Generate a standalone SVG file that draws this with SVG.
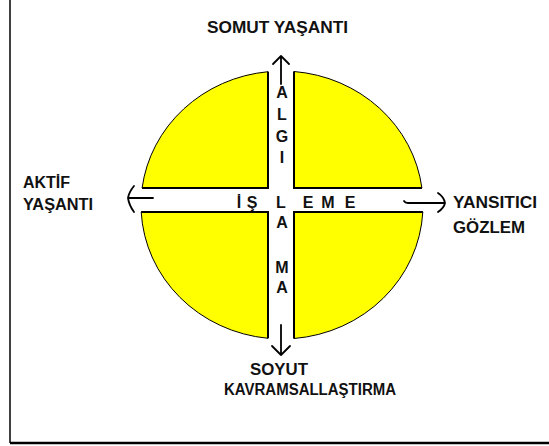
<svg xmlns="http://www.w3.org/2000/svg" width="549" height="446" viewBox="0 0 549 446">
<style>
.q{fill:#FFFF00;stroke:#000;stroke-width:1}
.e{fill:none;stroke:#000;stroke-width:2}
.a{fill:none;stroke:#000;stroke-width:1.8;stroke-linecap:round;stroke-linejoin:round}
.t{font-family:"Liberation Sans",Arial,sans-serif;font-weight:bold;font-size:16px;fill:#111}
.l{font-family:"Liberation Sans",Arial,sans-serif;font-weight:bold;font-size:16px;fill:#111;text-anchor:middle}
</style>
<rect width="549" height="446" fill="#fff"/>
<g id="frame">
<line x1="10" y1="0" x2="10" y2="443" stroke="#000" stroke-width="1.5"/>
<line x1="10" y1="443" x2="549" y2="443" stroke="#000" stroke-width="2.5"/>
</g>
<g id="quadrant-tl">
<path class="q" d="M268,188 L268,71.7 A141,134 0 0 0 142.1,188 Z"/>
<polyline class="e" points="268,71.7 268,188 142.1,188"/>
</g>
<g id="quadrant-tr">
<path class="q" d="M294,188 L294,71.5 A141,134 0 0 1 421.9,188 Z"/>
<polyline class="e" points="294,71.5 294,188 421.9,188"/>
</g>
<g id="quadrant-bl">
<path class="q" d="M268,212 L268,338.3 A141,134 0 0 1 141.2,212 Z"/>
<polyline class="e" points="268,338.3 268,212 141.2,212"/>
</g>
<g id="quadrant-br">
<path class="q" d="M294,212 L294,338.5 A141,134 0 0 0 422.8,212 Z"/>
<polyline class="e" points="294,338.5 294,212 422.8,212"/>
</g>
<g id="connectors">
<path class="a" d="M281,56 L281,84 M273,64 L281,56 L289,64"/>
<path class="a" d="M281,325 L281,355 M272,346 L281,355 L290,346"/>
<path class="a" d="M128,198 L153,198 M134,186 Q129,192 128,198 Q129,205 134,212"/>
<path class="a" d="M404,201 Q405,203 408,203 L444,203 M438,193 Q444,197 445,203 Q444,208 438,212"/>
</g>
<g id="label-top"><text class="t" x="207" y="33" textLength="141" lengthAdjust="spacingAndGlyphs">SOMUT YAŞANTI</text></g>
<g id="label-left">
<text class="t" x="23" y="188" textLength="47" lengthAdjust="spacingAndGlyphs">AKTİF</text>
<text class="t" x="23" y="210" textLength="70" lengthAdjust="spacingAndGlyphs">YAŞANTI</text>
</g>
<g id="label-right">
<text class="t" x="453" y="208" textLength="84" lengthAdjust="spacingAndGlyphs">YANSITICI</text>
<text class="t" x="453" y="233" textLength="72" lengthAdjust="spacingAndGlyphs">GÖZLEM</text>
</g>
<g id="label-bottom">
<text class="t" x="250" y="375" textLength="58" lengthAdjust="spacingAndGlyphs">SOYUT</text>
<text class="t" x="224" y="395" textLength="172" lengthAdjust="spacingAndGlyphs">KAVRAMSALLAŞTIRMA</text>
</g>
<g id="band-letters">
<text class="l" x="282" y="98">A</text>
<text class="l" x="282" y="120">L</text>
<text class="l" x="282" y="142">G</text>
<text class="l" x="282" y="163">I</text>
<text class="l" x="239" y="208">İ</text>
<text class="l" x="252" y="208">Ş</text>
<text class="l" x="281" y="208">L</text>
<text class="l" x="308" y="208">E</text>
<text class="l" x="328" y="208">M</text>
<text class="l" x="350" y="208">E</text>
<text class="l" x="282" y="228">A</text>
<text class="l" x="282" y="273">M</text>
<text class="l" x="282" y="293">A</text>
</g>
</svg>
